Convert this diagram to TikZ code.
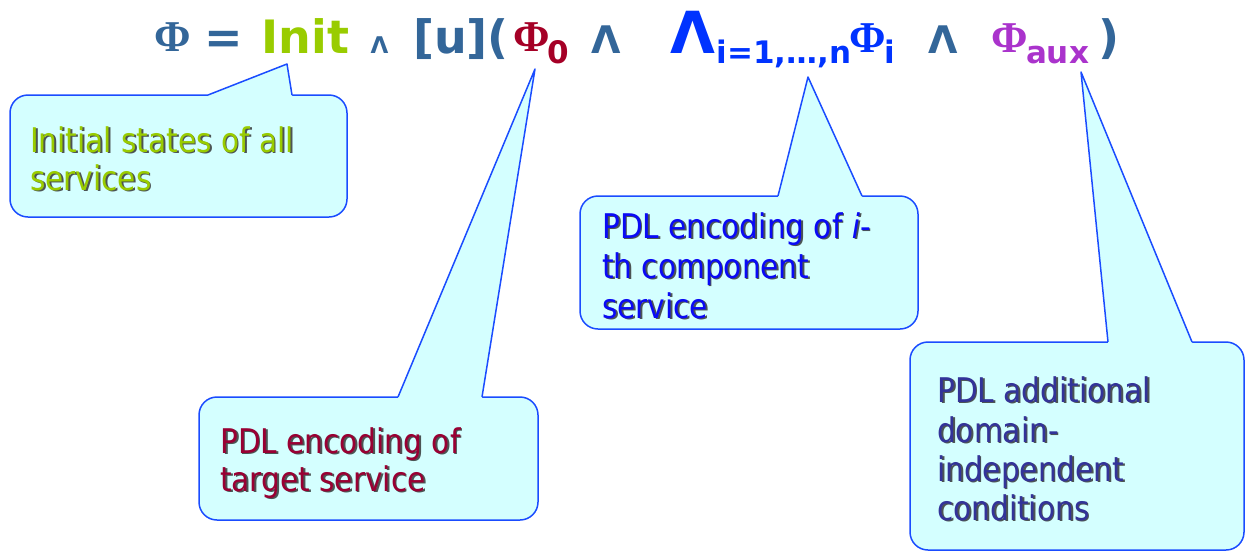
\documentclass[tikz,border=0pt]{standalone}
\usepackage{fontspec}
\setmainfont{DejaVu Sans}
\newfontfamily\callfont[FakeStretch=0.87]{DejaVu Sans}
\newfontfamily\phifont{Liberation Serif}

\definecolor{phiblue}{HTML}{336699}
\definecolor{initgreen}{HTML}{99CC00}
\definecolor{phired}{HTML}{A50026}
\definecolor{brightblue}{HTML}{0033FF}
\definecolor{auxpurple}{HTML}{AA33CC}
\definecolor{callfill}{HTML}{D4FFFF}
\definecolor{callline}{HTML}{1A4CFF}
\definecolor{targettext}{HTML}{990033}
\definecolor{comptext}{HTML}{0A0AF5}
\definecolor{auxtext}{HTML}{333399}
\definecolor{shadowc}{HTML}{2A2A2A}

\tikzset{
  calloutbox/.style={draw=callline, line width=1.5pt, fill=callfill,
    rounded corners=18pt, inner sep=0pt, outer sep=0pt, anchor=north west},
  calltext/.style={anchor=base west, inner sep=0pt,
    font=\callfont\fontsize{34}{40}\selectfont},
  bigsym/.style={anchor=base, inner sep=0pt,
    font=\bfseries\fontsize{46}{46}\selectfont},
  subsym/.style={anchor=base, inner sep=0pt,
    font=\bfseries\fontsize{31}{31}\selectfont},
  phisym/.style={anchor=base, inner sep=0pt,
    font=\phifont\bfseries\fontsize{44}{44}\selectfont},
  andsym/.style={anchor=base, inner sep=0pt,
    font=\bfseries\fontsize{38}{38}\selectfont},
}

% one line of callout text with its drop shadow
\newcommand\calloutline[5]{%
  \node[calltext, text=shadowc, opacity=0.8] (#1s) at (#2+1.8,#3+1.8) {#5};
  \node[calltext, text=#4] (#1) at (#2,#3) {#5};
}
% pointer of a callout: base from #1 to #2 on the top edge at height #3, tip at #4
\newcommand\calloutpointer[4]{%
  \fill[callfill] (#1,#3+2.5) -- (#1,#3) -- (#4) -- (#2,#3) -- (#2,#3+2.5) -- cycle;
  \draw[callline, line width=1.5pt, line join=round] (#1,#3) -- (#4) -- (#2,#3);
}

\begin{document}
\begin{tikzpicture}[x=1pt,y=-1pt]
\useasboundingbox (0,0) rectangle (1246,552);

% ---- formula ----
\node[phisym, text=phiblue] (phi) at (172.5,51) {Φ};
\node[bigsym, text=phiblue] (eq) at (224,53) {=};
\node[bigsym, text=initgreen] (init) at (305.5,53) {Init};
\node[anchor=base, inner sep=0pt, text=phiblue,
      font=\bfseries\fontsize{23}{23}\selectfont] (and1) at (379.5,53) {Λ};
\node[bigsym, text=phiblue] (box) at (461,53) {[u](};
\node[phisym, text=phired] (phizero) at (531.5,51) {Φ};
\node[subsym, text=phired] (zero) at (558.5,63) {0};
\node[andsym, text=phiblue] (and2) at (606.5,53) {Λ};
\node[anchor=base, inner sep=0pt, text=brightblue,
      font=\bfseries\fontsize{58}{58}\selectfont] (bigand) at (692.5,53) {Λ};
\node[subsym, text=brightblue] (range) at (784,63) {i=1,…,n};
\node[phisym, text=brightblue] (phii) at (868,52) {Φ};
\node[subsym, text=brightblue] (idx) at (890,63) {i};
\node[andsym, text=phiblue] (and3) at (943.5,53) {Λ};
\node[phisym, text=auxpurple] (phiaux) at (1010,52) {Φ};
\node[subsym, text=auxpurple] (aux) at (1057.5,63) {aux};
\node[bigsym, text=phiblue] (close) at (1109,53) {)};

% pointer tips just under the formula parts
\coordinate (tipinit) at (287,64);
\coordinate (tipzero) at (535,69);
\coordinate (tipi) at (808,77);
\coordinate (tipaux) at (1081,72);

% ---- callout boxes ----
\node[calloutbox, minimum width=337pt, minimum height=122pt] (initbox) at (10,95) {};
\node[calloutbox, minimum width=338pt, minimum height=133pt] (compbox) at (580,196) {};
\node[calloutbox, minimum width=339pt, minimum height=123pt] (targetbox) at (199,397) {};
\node[calloutbox, minimum width=334pt, minimum height=208pt] (auxbox) at (910,342) {};

\calloutpointer{208}{292}{95}{tipinit}
\calloutpointer{778}{862}{196}{tipi}
\calloutpointer{398}{482}{397}{tipzero}
\calloutpointer{1108}{1192}{342}{tipaux}

% ---- callout texts ----
\calloutline{inita}{30}{152}{initgreen}{Initial states of all}
\calloutline{initb}{30}{190}{initgreen}{services}

\calloutline{compa}{602}{238}{comptext}{PDL encoding of \textit{i}-}
\calloutline{compb}{602}{278}{comptext}{th component}
\calloutline{compc}{602}{318}{comptext}{service}

\calloutline{targa}{220}{453}{targettext}{PDL encoding of}
\calloutline{targb}{220}{491}{targettext}{target service}

\calloutline{auxa}{937}{402}{auxtext}{PDL additional}
\calloutline{auxb}{937}{442}{auxtext}{domain-}
\calloutline{auxc}{937}{481}{auxtext}{independent}
\calloutline{auxd}{937}{520}{auxtext}{conditions}
\end{tikzpicture}
\end{document}
